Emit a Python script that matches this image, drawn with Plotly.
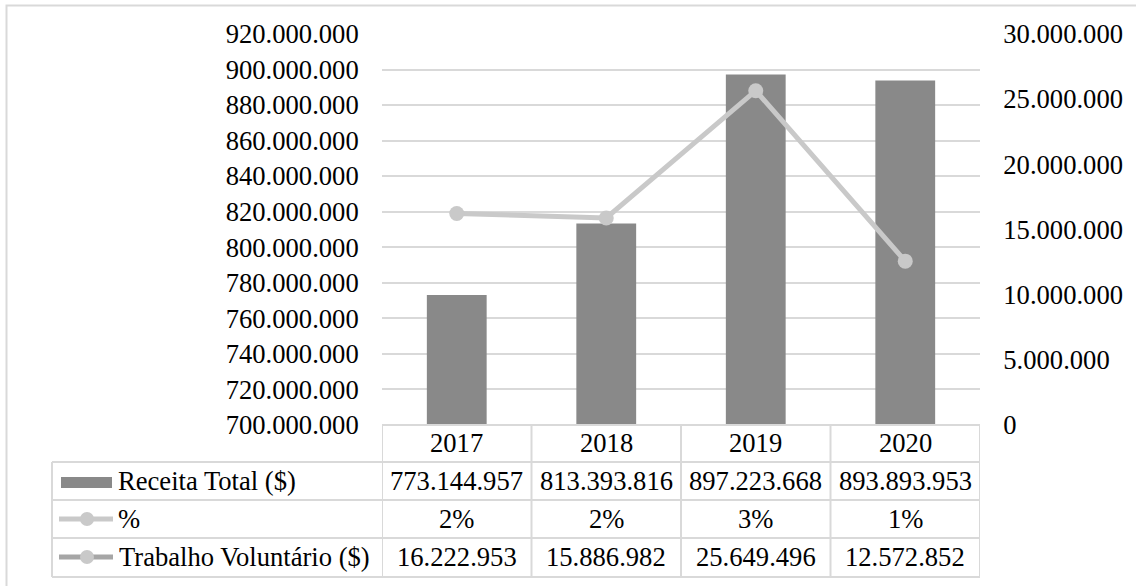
import plotly.graph_objects as go

years = ["2017", "2018", "2019", "2020"]
receita = [773144957, 813393816, 897223668, 893893953]
pct = [2, 2, 3, 1]
trabalho = [16222953, 15886982, 25649496, 12572852]

row_labels = ["Receita Total ($)", "%", "Trabalho Voluntário ($)"]

FONT = "Liberation Serif, Times New Roman, serif"
FS = 26.6
BAR_C = "#898989"
LINE_C = "#c9c9c9"
LEG2_C = "#a6a6a6"
GRID_C = "#d9d9d9"

# plot area in pixels
L, R, T, B = 382, 980, 34, 425
W, H = R - L, B - T


def px(x):
    return (x - L) / W


def py(y):
    return (B - y) / H


def fmt(v):
    return f"{v:,}".replace(",", ".")


xi = list(range(len(years)))

fig = go.Figure()
fig.add_trace(go.Bar(x=xi, y=receita, width=0.4, marker=dict(color=BAR_C, line=dict(width=0)),
                     name=row_labels[0], yaxis="y"))
fig.add_trace(go.Scatter(x=xi, y=trabalho, mode="lines+markers", name=row_labels[2],
                         line=dict(color=LINE_C, width=5),
                         marker=dict(color=LINE_C, size=15), yaxis="y2"))

shapes = []
# outer border
shapes.append(dict(type="rect", xref="paper", yref="paper", x0=px(6.5), x1=px(1145),
                   y0=py(5.5), y1=py(600), line=dict(color=GRID_C, width=2), fillcolor="rgba(0,0,0,0)"))
# table lines
line = dict(color=GRID_C, width=2)
shapes.append(dict(type="line", xref="paper", yref="paper", x0=0, x1=1, y0=0, y1=0, line=line))
for yy in [462, 500, 538, 577]:
    shapes.append(dict(type="line", xref="paper", yref="paper", x0=px(52), x1=1, y0=py(yy), y1=py(yy), line=line))
for k in range(len(years) + 1):
    shapes.append(dict(type="line", xref="x", yref="paper", x0=k - 0.5, x1=k - 0.5, y0=0, y1=py(577), line=line))
shapes.append(dict(type="line", xref="paper", yref="paper", x0=px(52), x1=px(52), y0=py(462), y1=py(577), line=line))
# legend keys
shapes.append(dict(type="rect", xref="paper", yref="paper", x0=px(61), x1=px(112), y0=py(488), y1=py(477),
                   fillcolor=BAR_C, line=dict(width=0)))
shapes.append(dict(type="line", xref="paper", yref="paper", x0=px(59), x1=px(113), y0=py(519), y1=py(519),
                   line=dict(color=LINE_C, width=5)))
shapes.append(dict(type="circle", xref="paper", yref="paper", x0=px(80), x1=px(94), y0=py(526), y1=py(512),
                   fillcolor=LINE_C, line=dict(width=0)))
shapes.append(dict(type="line", xref="paper", yref="paper", x0=px(59), x1=px(113), y0=py(557), y1=py(557),
                   line=dict(color=LEG2_C, width=5)))
shapes.append(dict(type="circle", xref="paper", yref="paper", x0=px(80), x1=px(94), y0=py(564), y1=py(550),
                   fillcolor=LINE_C, line=dict(width=0)))

ann = []
tf = dict(family=FONT, size=FS, color="black")
row_y = [481, 519, 557]
for i, yr in enumerate(years):
    ann.append(dict(x=i, xref="x", y=py(443), yref="paper", text=yr, showarrow=False, font=tf,
                    xanchor="center", yanchor="middle"))
    ann.append(dict(x=i, xref="x", y=py(row_y[0]), yref="paper", text=fmt(receita[i]), showarrow=False,
                    font=tf, xanchor="center", yanchor="middle"))
    ann.append(dict(x=i, xref="x", y=py(row_y[1]), yref="paper", text=f"{pct[i]}%", showarrow=False,
                    font=tf, xanchor="center", yanchor="middle"))
    ann.append(dict(x=i, xref="x", y=py(row_y[2]), yref="paper", text=fmt(trabalho[i]), showarrow=False,
                    font=tf, xanchor="center", yanchor="middle"))
for lbl, yy, xx in zip(row_labels, row_y, [116, 116, 117]):
    ann.append(dict(x=px(xx), xref="paper", y=py(yy), yref="paper", text=lbl, showarrow=False, font=tf,
                    xanchor="left", yanchor="middle"))

fig.update_layout(
    width=1136, height=586,
    margin=dict(l=L, r=1136 - R, t=T, b=586 - B),
    paper_bgcolor="white", plot_bgcolor="white",
    separators=",.",
    showlegend=False,
    font=dict(family=FONT, size=FS, color="black"),
    xaxis=dict(type="linear", range=[-0.5, len(years) - 0.5], autorange=False, showticklabels=False,
               showgrid=False, zeroline=False, showline=False, ticks=""),
    yaxis=dict(range=[700000000, 920000000], autorange=False, dtick=20000000, tick0=700000000, tickformat=",d",
               showgrid=True, gridcolor=GRID_C, gridwidth=2, zeroline=False, showline=False,
               ticks="outside", ticklen=17, tickcolor="rgba(0,0,0,0)",
               tickfont=dict(family=FONT, size=FS, color="black")),
    yaxis2=dict(range=[0, 30000000], autorange=False, dtick=5000000, tickformat=",d", overlaying="y", side="right",
                showgrid=False, zeroline=False, showline=False,
                ticks="outside", ticklen=17, tickcolor="rgba(0,0,0,0)",
                tickfont=dict(family=FONT, size=FS, color="black")),
    shapes=shapes,
    annotations=ann,
)

fig.write_html("out.html")
